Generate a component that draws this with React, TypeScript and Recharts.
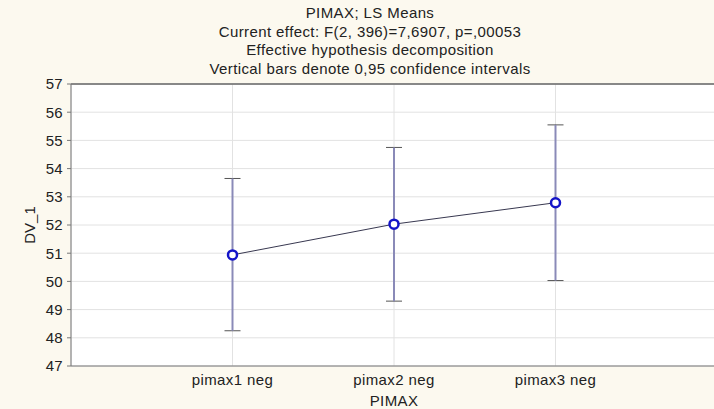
import { ComposedChart, Line, XAxis, YAxis, CartesianGrid, ErrorBar, ReferenceLine } from 'recharts'

const groups = ['pimax1 neg', 'pimax2 neg', 'pimax3 neg']
const lsMeans = [50.94, 52.03, 52.79]
const ciLower = [48.25, 49.3, 50.03]
const ciUpper = [53.65, 54.75, 55.55]
const yTicks = [47, 48, 49, 50, 51, 52, 53, 54, 55, 56, 57]
const xTicks = [1, 2, 3]
const titleLines = [
  'PIMAX; LS Means',
  'Current effect: F(2, 396)=7,6907, p=,00053',
  'Effective hypothesis decomposition',
  'Vertical bars denote 0,95 confidence intervals',
]

const data = groups.map((g, i) => ({
  pos: i + 1,
  name: g,
  mean: lsMeans[i],
  ci: [lsMeans[i] - ciLower[i], ciUpper[i] - lsMeans[i]],
}))

const font = '"Liberation Sans", Arial, sans-serif'

export default function App() {
  return (
    <div
      style={{
        position: 'absolute',
        left: 0,
        top: 0,
        width: 714,
        height: 409,
        overflow: 'hidden',
        background: '#fcf9ef',
        fontFamily: font,
        color: '#222',
      }}
    >
      <div style={{ position: 'absolute', top: 4, left: 170, width: 400, textAlign: 'center', fontSize: 15, lineHeight: '18.7px', letterSpacing: 0.4 }}>
        {titleLines.map((t) => (
          <div key={t}>{t}</div>
        ))}
      </div>
      <ComposedChart
        width={717}
        height={409}
        data={data}
        margin={{ top: 84, right: 0, bottom: 0, left: 0 }}
        style={{ position: 'absolute', left: 0, top: 0 }}
      >
        <CartesianGrid fill="#ffffff" stroke="#e2e2e2" strokeWidth={1} />
        <XAxis
          dataKey="pos"
          type="number"
          domain={[0, 4]}
          ticks={xTicks}
          tickFormatter={(v) => groups[v - 1]}
          height={43}
          stroke="#777"
          tickLine={false}
          tickSize={0}
          tickMargin={8}
          tick={{ fill: '#222', fontSize: 15, letterSpacing: 0.4 }}
          label={{ value: 'PIMAX', position: 'insideBottom', offset: 3, fill: '#222', fontSize: 15, letterSpacing: 0.4 }}
        />
        <YAxis
          type="number"
          domain={[47, 57]}
          ticks={yTicks}
          width={71}
          stroke="#777"
          tickSize={4}
          tickMargin={4}
          interval={0}
          tick={{ fill: '#222', fontSize: 15, letterSpacing: 0.3 }}
          label={{ value: 'DV_1', angle: -90, position: 'insideLeft', offset: 30, fill: '#222', fontSize: 15, style: { textAnchor: 'middle' } }}
        />
        <ReferenceLine y={57} stroke="#666" strokeWidth={1.5} ifOverflow="visible" />
        <Line
          dataKey="mean"
          stroke="#383850"
          strokeWidth={1}
          isAnimationActive={false}
          dot={{ r: 4.5, stroke: '#1414c8', strokeWidth: 2.5, fill: '#ffffff' }}
          activeDot={false}
        >
          <ErrorBar dataKey="ci" width={8} stroke="#555" strokeWidth={1} isAnimationActive={false} />
          <ErrorBar dataKey="ci" width={0} stroke="#8a8ab8" strokeWidth={2} isAnimationActive={false} />
        </Line>
      </ComposedChart>
    </div>
  )
}
